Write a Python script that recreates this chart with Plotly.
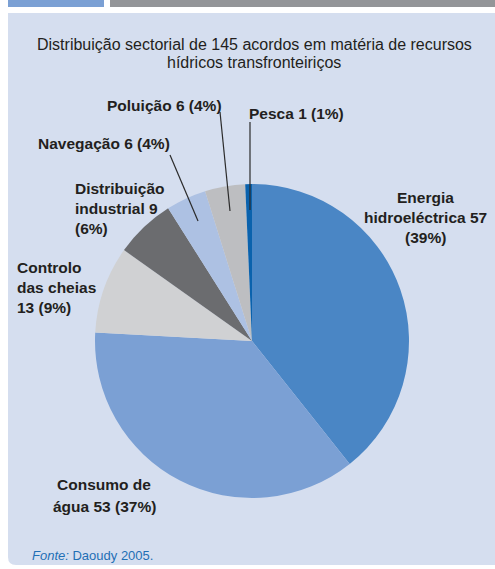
import plotly.graph_objects as go

W, H = 495, 569

categories = ["Energia hidroeléctrica", "Consumo de água", "Controlo das cheias",
              "Distribuição industrial", "Navegação", "Poluição", "Pesca"]
values = [57, 53, 13, 9, 6, 6, 1]
percents = ["39%", "37%", "9%", "6%", "4%", "4%", "1%"]
colors = ["#4a86c5", "#7ba0d4", "#d0d1d3", "#6b6c6f", "#adc1e3", "#bdbec1", "#0a62ad"]

title_lines = ["Distribuição sectorial de 145 acordos em matéria de recursos",
               "hídricos transfronteiriços"]

FONT = "Liberation Sans, Arial, sans-serif"
BG = "#d5deef"

def px(x):
    return x / W

def py(y):
    return 1 - y / H

cx, cy, r = 252, 341, 157

fig = go.Figure(go.Pie(
    labels=categories, values=values, sort=False, direction="clockwise",
    rotation=0, marker=dict(colors=colors, line=dict(width=0)),
    textinfo="none", hoverinfo="label+value+percent", showlegend=False,
    domain=dict(x=[px(cx - r), px(cx + r)], y=[py(cy + r), py(cy - r)]),
))

shapes = [
    dict(type="rect", xref="paper", yref="paper", x0=px(8), x1=px(104), y0=py(7), y1=py(0),
         fillcolor="#7ba0d4", line=dict(width=0), layer="below"),
    dict(type="rect", xref="paper", yref="paper", x0=px(110), x1=px(510), y0=py(7), y1=py(0),
         fillcolor="#939598", line=dict(width=0), layer="below"),
    dict(type="path", xref="paper", yref="paper",
         path=f"M {px(8)},{py(13)} L {px(510)},{py(13)} L {px(510)},{py(565)} "
              f"L {px(16)},{py(565)} Q {px(8)},{py(565)} {px(8)},{py(557)} Z",
         fillcolor=BG, line=dict(width=0), layer="below"),
]

# leader lines
leaders = [((220, 112), (230, 211)), ((170, 155), (198, 221)), ((250, 122), (250, 210))]
for (x0, y0), (x1, y1) in leaders:
    shapes.append(dict(type="line", xref="paper", yref="paper",
                       x0=px(x0), y0=py(y0), x1=px(x1), y1=py(y1),
                       line=dict(color="#2b2b2b", width=1.2)))

annotations = []

def add(text, x, y, xanchor="center", size=15.5, color="#231f20", bold=True):
    t = f"<b>{text}</b>" if bold else text
    annotations.append(dict(text=t, x=px(x), y=py(y), xref="paper", yref="paper",
                            xanchor=xanchor, yanchor="middle", showarrow=False,
                            font=dict(family=FONT, size=size, color=color)))

# title
add(title_lines[0], 254, 44, size=16, bold=False)
add(title_lines[1], 254, 63, size=16, bold=False)

v = dict(zip(categories, zip(values, percents)))

p = v["Poluição"]
add(f"Poluição {p[0]} ({p[1]})", 164, 105)
p = v["Pesca"]
add(f"Pesca {p[0]} ({p[1]})", 296, 113)
p = v["Navegação"]
add(f"Navegação {p[0]} ({p[1]})", 104, 143)
d = v["Distribuição industrial"]
add("Distribuição", 73, 188, xanchor="left")
add(f"industrial {d[0]}", 73, 208, xanchor="left")
add(f"({d[1]})", 73, 228, xanchor="left")
c = v["Controlo das cheias"]
add("Controlo", 15, 267, xanchor="left")
add("das cheias", 15, 287, xanchor="left")
add(f"{c[0]} ({c[1]})", 15, 307, xanchor="left")
e = v["Energia hidroeléctrica"]
add("Energia", 425, 198)
add(f"hidroeléctrica {e[0]}", 425, 217)
add(f"({e[1]})", 425, 237)
a = v["Consumo de água"]
add("Consumo de", 104, 484)
add(f"água {a[0]} ({a[1]})", 104, 506)

annotations.append(dict(text="<i>Fonte:</i> Daoudy 2005.", x=px(30), y=py(555),
                        xref="paper", yref="paper", xanchor="left", yanchor="middle",
                        showarrow=False, font=dict(family=FONT, size=13, color="#1f6fb5")))

fig.update_layout(width=W, height=H, margin=dict(l=0, r=0, t=0, b=0),
                  paper_bgcolor="white", plot_bgcolor="white",
                  shapes=shapes, annotations=annotations)

fig.write_html("out.html", config={"displayModeBar": False},
               post_script=("document.documentElement.style.margin='0';"
                            "document.documentElement.style.overflow='hidden';"
                            "document.body.style.margin='0';"
                            "document.body.style.overflow='hidden';"))
